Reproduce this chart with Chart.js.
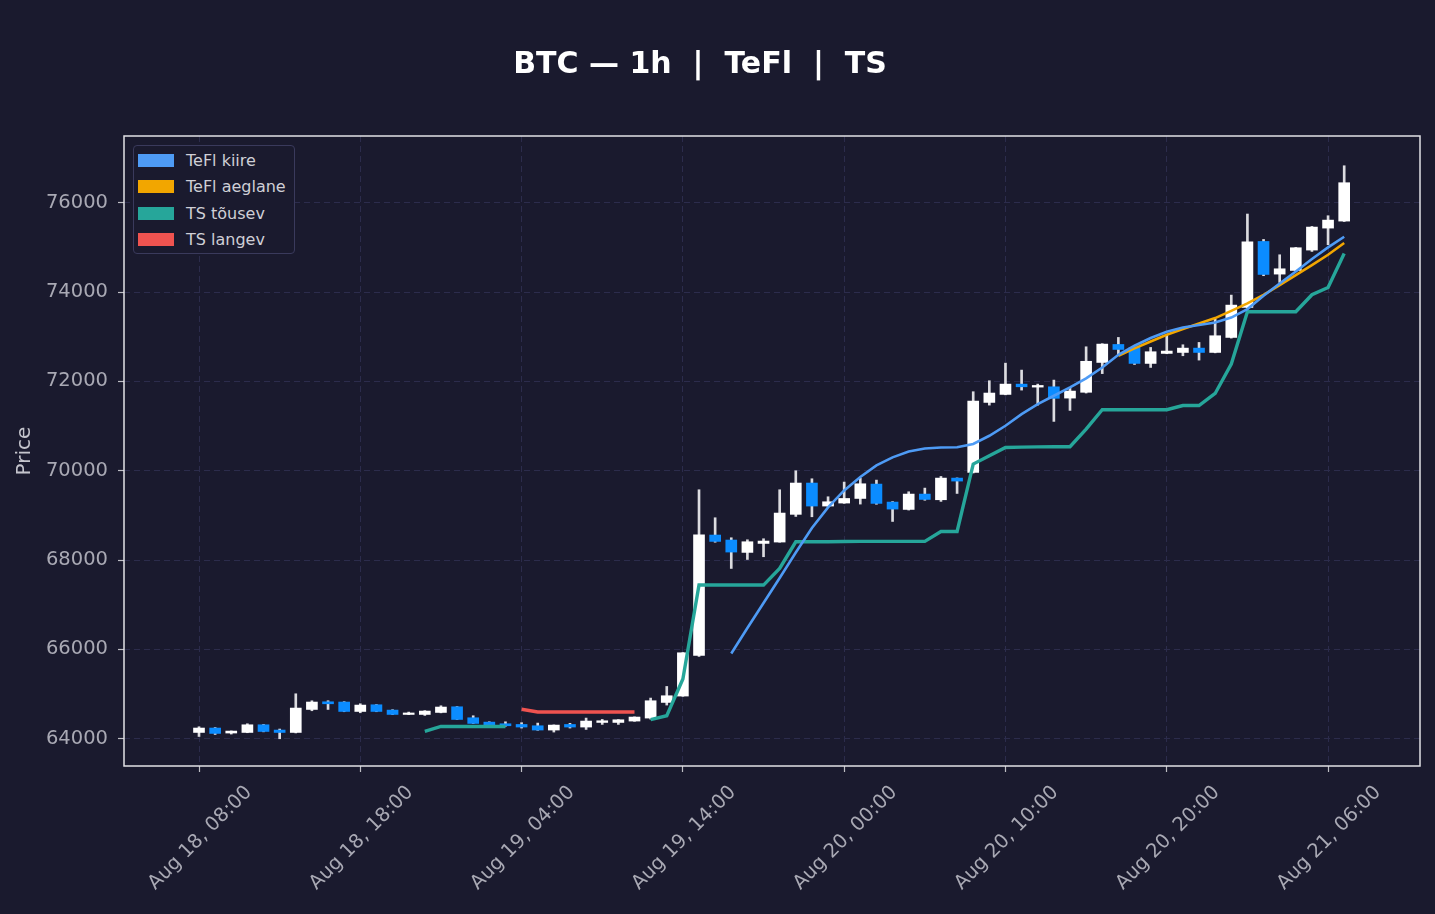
<!DOCTYPE html>
<html>
<head>
<meta charset="utf-8">
<script src="https://cdn.jsdelivr.net/npm/chart.js@4.4.1/dist/chart.umd.min.js"></script>
<style>
  body { margin: 0; background: #1a1a2e; }
  #wrap { position: relative; width: 1435px; height: 914px; background: #1a1a2e; }
  #title { position: absolute; left: 0; top: 44px; width: 1400px; text-align: center;
           font: bold 30px "DejaVu Sans"; color: #ffffff; white-space: pre; line-height: 38px; }
  #legend { position: absolute; left: 133px; top: 145px; width: 160px; height: 107px;
            border: 1.5px solid #3a3a5c; border-radius: 4px; background: #1a1a2e; }
  .row { position: absolute; left: 4px; height: 20px; font: 16px "DejaVu Sans"; color: #cfcfd6; }
  .sw { position: absolute; left: 0; top: 3px; width: 36px; height: 13px; }
  .lb { position: absolute; left: 48px; top: 0; white-space: pre; line-height: 20px; }
</style>
</head>
<body>
<div id="wrap">
  <canvas id="chart" width="1435" height="914"></canvas>
  <div id="title">BTC — 1h  |  TeFl  |  TS</div>
  <div id="legend"></div>
</div>
<script>
// hourly candles, index 0 = Aug 18 08:00
const opens  = [64141,64240,64128,64141,64313,64195,64141,64656,64828,64822,64611,64761,64642,64544,64544,64589,64716,64470,64373,64336,
                64320,64291,64195,64320,64262,64365,64365,64396,64463,64813,64956,65865,68561,68449,68172,68373,68404,69024,69725,69210,
                69277,69380,69702,69299,69134,69478,69351,69836,69964,71530,71709,71940,71873,71880,71627,71757,72425,72828,72761,72403,
                72627,72649,72746,72649,72985,73657,75134,74403,74485,74941,75433,75590];
const highs  = [64269,64250,64175,64336,64320,64217,65007,64851,64851,64830,64784,64765,64650,64597,64630,64739,64720,64515,64380,64380,
                64360,64351,64310,64345,64463,64433,64430,64490,64911,65171,65930,69575,68948,68500,68455,68478,69575,70000,69821,69418,
                69747,69836,69791,69310,69530,69612,69873,69840,71770,72016,72410,72254,71940,72030,71866,72776,72845,72985,72770,72761,
                73038,72821,72873,73396,73933,75748,75179,74836,75000,75470,75710,76829];
const lows   = [64051,64096,64105,64135,64155,64000,64130,64627,64656,64605,64582,64605,64540,64540,64522,64580,64430,64340,64310,64280,
                64240,64190,64150,64240,64208,64321,64321,64390,64440,64754,64950,65843,68400,67813,68014,68075,68400,68977,68970,69200,
                69270,69254,69250,68865,69120,69340,69314,69492,69950,71470,71700,71806,71470,71105,71351,71740,72175,72590,72380,72313,
                72620,72575,72478,72640,72970,73640,74367,74216,74470,74910,75060,75580];
const closes = [64240,64119,64172,64313,64163,64141,64687,64822,64783,64611,64754,64611,64544,64575,64620,64710,64432,64343,64313,64291,
                64262,64195,64306,64262,64396,64403,64425,64486,64851,64963,65925,68568,68418,68180,68411,68426,69053,69725,69210,69306,
                69380,69709,69269,69142,69478,69358,69836,69769,71561,71740,71940,71880,71910,71622,71784,72451,72836,72716,72403,72665,
                72680,72746,72649,73023,73709,75127,74395,74522,74993,75456,75612,76449];

// indicator lines (first value sits on candle index *Start)
const teflFastStart = 33;
const teflFast = [65910,66480,67040,67600,68170,68720,69180,69560,69860,70120,70300,70430,70500,70520,70525,70600,70784,71008,71269,71493,
                  71680,71866,72070,72313,72597,72799,72971,73112,73209,73262,73320,73430,73620,73919,74194,74463,74740,75000,75240];
const teflSlowStart = 57;
const teflSlow = [72575,72739,72895,73045,73172,73298,73418,73580,73746,73940,74158,74381,74605,74836,75098];
const tsUpStart = 14;
const tsUp = [64163,64276,64276,64276,64276,64276,null,null,null,null,null,null,null,null,
              64430,64515,65337,67441,67441,67441,67441,67441,67813,68410,68410,68410,68415,68420,68420,68420,68420,68420,68640,68640,
              70150,70336,70522,70530,70535,70538,70538,70934,71366,71366,71366,71366,71366,71460,71460,71731,72389,73560,73560,73560,
              73560,73940,74104,74866];
const tsDownStart = 20;
const tsDown = [64660,64600,64600,64600,64600,64600,64600,64600];

const tickHours  = [0, 10, 20, 30, 40, 50, 60, 70];
const tickLabels = ['Aug 18, 08:00', 'Aug 18, 18:00', 'Aug 19, 04:00', 'Aug 19, 14:00',
                    'Aug 20, 00:00', 'Aug 20, 10:00', 'Aug 20, 20:00', 'Aug 21, 06:00'];
const yTicks = [64000, 66000, 68000, 70000, 72000, 74000, 76000];

const upColor = '#ffffff';
const downColor = '#0b8cff';
const gridColor = '#2c2c4c';
const tickText = '#a9a9b4';

Chart.defaults.font.family = 'DejaVu Sans';

function series(start, vals) {
  return vals.map((v, k) => ({ x: start + k, y: v }));
}

const bodies = opens.map((o, i) => ({ x: i, y: [Math.min(o, closes[i]), Math.max(o, closes[i])] }));
const bodyColors = opens.map((o, i) => closes[i] >= o ? upColor : downColor);
const wicks = lows.map((l, i) => ({ x: i, y: [l, highs[i]] }));

const lineSets = [
  { label: 'TeFl kiire',   data: series(teflFastStart, teflFast), color: '#4e9bf5', width: 2.6 },
  { label: 'TeFl aeglane', data: series(teflSlowStart, teflSlow), color: '#f2a600', width: 2.6 },
  { label: 'TS tõusev',    data: series(tsUpStart, tsUp),         color: '#26a69a', width: 3.4 },
  { label: 'TS langev',    data: series(tsDownStart, tsDown),     color: '#ef5350', width: 3.4 }
];

const frame = {
  id: 'frame',
  afterDraw(chart) {
    const { ctx, chartArea: a } = chart;
    ctx.save();
    ctx.strokeStyle = '#e2e2e6';
    ctx.lineWidth = 1.5;
    ctx.strokeRect(a.left, a.top, a.right - a.left, a.bottom - a.top);
    ctx.restore();
  }
};

new Chart(document.getElementById('chart'), {
  type: 'bar',
  data: {
    datasets: lineSets.map(s => ({
      type: 'line', label: s.label, data: s.data, borderColor: s.color, backgroundColor: s.color,
      borderWidth: s.width, pointRadius: 0, tension: 0, spanGaps: false, order: 1
    })).concat([
      { label: 'wick', data: wicks, backgroundColor: '#dcdce0', barThickness: 2, grouped: false, order: 4 },
      { label: 'body', data: bodies, backgroundColor: bodyColors, barThickness: 11, grouped: false,
        minBarLength: 1.5, order: 3 }
    ])
  },
  options: {
    responsive: false,
    animation: false,
    devicePixelRatio: 1,
    layout: { autoPadding: false, padding: { top: 136, right: 15, left: 0, bottom: 0 } },
    plugins: { legend: { display: false }, tooltip: { enabled: false }, title: { display: false } },
    scales: {
      x: {
        type: 'linear', min: -4.65, max: 75.7, offset: false,
        afterBuildTicks: s => { s.ticks = tickHours.map(v => ({ value: v })); },
        afterFit: s => { s.height = 148; },
        ticks: { autoSkip: false, minRotation: 45, maxRotation: 45, labelOffset: 50, padding: 9,
                 color: tickText, font: { size: 19.5 }, callback: (v, i) => tickLabels[i] },
        grid: { offset: false, color: gridColor, lineWidth: 1, tickLength: 6, tickColor: '#bdbdc4', tickWidth: 1.2 },
        border: { display: false, dash: [6, 4] }
      },
      y: {
        min: 63390, max: 77495,
        afterBuildTicks: s => { s.ticks = yTicks.map(v => ({ value: v })); },
        afterFit: s => { s.width = 124; },
        ticks: { padding: 10, color: tickText, font: { size: 19.5 }, callback: (v, i) => String(yTicks[i]) },
        title: { display: true, text: 'Price', color: '#c4c4cc', font: { size: 20 }, padding: { top: 13, bottom: 0 } },
        grid: { color: gridColor, lineWidth: 1, tickLength: 6, tickColor: '#bdbdc4', tickWidth: 1.2 },
        border: { display: false, dash: [6, 4] }
      }
    }
  },
  plugins: [frame]
});

// legend box, built from the line series
const legend = document.getElementById('legend');
lineSets.forEach((s, k) => {
  const row = document.createElement('div');
  row.className = 'row';
  row.style.top = (5 + k * 26.3) + 'px';
  row.innerHTML = '<span class="sw" style="background:' + s.color + '"></span><span class="lb">' + s.label + '</span>';
  legend.appendChild(row);
});
</script>
</body>
</html>
